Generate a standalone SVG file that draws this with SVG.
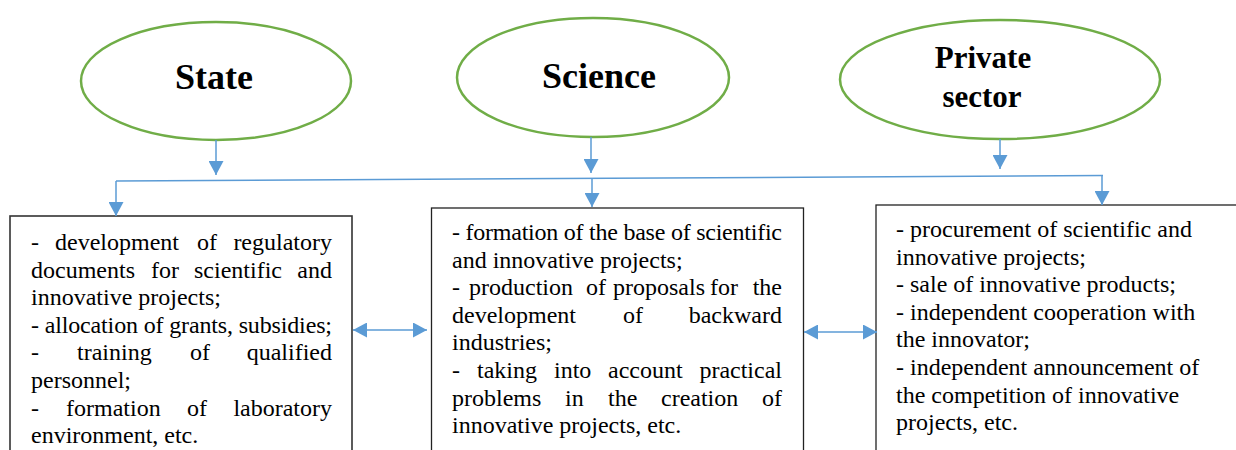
<svg xmlns="http://www.w3.org/2000/svg" width="1236" height="450" viewBox="0 0 1236 450">
<style>
.ell{fill:#fff;stroke:#70AD47;stroke-width:2.5}
.box{fill:#fff;stroke:#222;stroke-width:1.3}
.con{fill:none;stroke:#5B9BD5;stroke-width:1.5}
.h{font-family:"Liberation Serif","Times New Roman",serif;font-weight:bold;fill:#000;text-anchor:middle}
.t{font-family:"Liberation Serif","Times New Roman",serif;font-size:24px;fill:#000}
.e{text-anchor:end}
</style>
<defs>
<marker id="ah" markerUnits="userSpaceOnUse" markerWidth="14" markerHeight="15" refX="14" refY="7.5" orient="auto-start-reverse" viewBox="0 0 14 15">
<path d="M0,0 L14,7.5 L0,15 z" fill="#5B9BD5"/>
</marker>
</defs>
<g id="state">
<ellipse class="ell" cx="216" cy="81" rx="135" ry="59"/>
<text class="h" x="214" y="89" font-size="36">State</text>
</g>
<g id="science">
<ellipse class="ell" cx="593" cy="77.5" rx="136" ry="59.5"/>
<text class="h" x="599" y="88" font-size="36">Science</text>
</g>
<g id="private">
<ellipse class="ell" cx="1000" cy="79.5" rx="160" ry="59.5"/>
<text class="h" x="983" y="68" font-size="31">Private</text>
<text class="h" x="982" y="107" font-size="31">sector</text>
</g>
<g id="state-box">
<rect class="box" x="10" y="216" width="342" height="250" style="stroke:#333;stroke-width:1.6"/>
<text class="t" y="250"><tspan x="31">-</tspan><tspan x="55">development</tspan><tspan x="197">of</tspan></text>
<text class="t e" x="332" y="250">regulatory</text>
<text class="t" y="277.6"><tspan x="31">documents</tspan><tspan x="151">for</tspan><tspan x="194">scientific</tspan></text>
<text class="t e" x="332" y="277.6">and</text>
<text class="t" x="31" y="305.2">innovative projects;</text>
<text class="t" x="31" y="332.8" textLength="301" lengthAdjust="spacing">- allocation of grants, subsidies;</text>
<text class="t" y="360.4"><tspan x="31">-</tspan><tspan x="77">training</tspan><tspan x="190">of</tspan></text>
<text class="t e" x="332" y="360.4">qualified</text>
<text class="t" x="31" y="388">personnel;</text>
<text class="t" y="415.6"><tspan x="31">-</tspan><tspan x="66">formation</tspan><tspan x="187">of</tspan></text>
<text class="t e" x="332" y="415.6">laboratory</text>
<text class="t" x="31" y="443.2">environment, etc.</text>
</g>
<g id="science-box">
<rect class="box" x="431.5" y="208" width="372" height="260"/>
<text class="t" x="452" y="240" textLength="330" lengthAdjust="spacing">- formation of the base of scientific</text>
<text class="t" x="452" y="267.6">and innovative projects;</text>
<text class="t" y="295.2"><tspan x="452">-</tspan><tspan x="469">production</tspan><tspan x="586">of</tspan><tspan x="613">proposals</tspan><tspan x="710">for</tspan></text>
<text class="t e" x="782" y="295.2">the</text>
<text class="t" y="322.8"><tspan x="452">development</tspan><tspan x="623">of</tspan></text>
<text class="t e" x="782" y="322.8">backward</text>
<text class="t" x="452" y="350.4">industries;</text>
<text class="t" y="378"><tspan x="452">-</tspan><tspan x="477">taking</tspan><tspan x="554">into</tspan><tspan x="608">account</tspan></text>
<text class="t e" x="782" y="378">practical</text>
<text class="t" y="405.6"><tspan x="452">problems</tspan><tspan x="565">in</tspan><tspan x="608">the</tspan><tspan x="661">creation</tspan></text>
<text class="t e" x="782" y="405.6">of</text>
<text class="t" x="452" y="433.2">innovative projects, etc.</text>
</g>
<g id="private-box">
<rect class="box" x="876" y="205" width="380" height="260"/>
<text class="t" x="896" y="237">- procurement of scientific and</text>
<text class="t" x="896" y="264.6">innovative projects;</text>
<text class="t" x="896" y="292.2">- sale of innovative products;</text>
<text class="t" x="896" y="319.8">- independent cooperation with</text>
<text class="t" x="896" y="347.4">the innovator;</text>
<text class="t" x="896" y="375">- independent announcement of</text>
<text class="t" x="896" y="402.6">the competition of innovative</text>
<text class="t" x="896" y="430.2">projects, etc.</text>
</g>
<g id="connectors">
<line class="con" x1="216" y1="140" x2="216" y2="175" marker-end="url(#ah)"/>
<line class="con" x1="591" y1="137" x2="591" y2="173" marker-end="url(#ah)"/>
<line class="con" x1="1000" y1="139" x2="1000" y2="169" marker-end="url(#ah)"/>
<polyline class="con" points="116,181 1103,175.5"/>
<line class="con" x1="116" y1="181" x2="116" y2="216" marker-end="url(#ah)"/>
<line class="con" x1="592" y1="179" x2="592" y2="207" marker-end="url(#ah)"/>
<line class="con" x1="1102" y1="175.5" x2="1102" y2="205" marker-end="url(#ah)"/>
<line class="con" x1="353" y1="330" x2="427" y2="330" marker-start="url(#ah)" marker-end="url(#ah)"/>
<line class="con" x1="804" y1="332" x2="877" y2="332" marker-start="url(#ah)" marker-end="url(#ah)"/>
</g>
</svg>
